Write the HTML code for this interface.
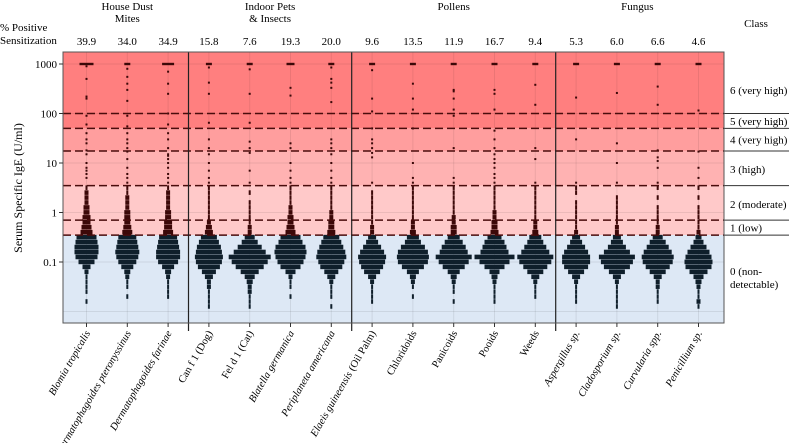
<!DOCTYPE html>
<html><head><meta charset="utf-8"><style>
body{margin:0;background:#fff;}
svg{display:block;}
svg text{font-family:"Liberation Serif","Times New Roman",serif;}
</style></head><body>
<svg id="chart" width="789" height="443" viewBox="0 0 789 443" font-family="Liberation Serif, serif">
<g id="bands"></g><g id="grid"></g><g id="marks"></g><g id="lines"></g><g id="labels"></g>
</svg>
<script>
const categories=["Blomia tropicalis","Dermatophagoides pteronyssinus","Dermatophagoides farinae","Can f 1 (Dog)","Fel d 1 (Cat)","Blatella germanica","Periplaneta americana","Elaeis guineensis (Oil Palm)","Chloridoids","Panicoids","Pooids","Weeds","Aspergillus sp.","Cladosporium sp.","Curvularia spp.","Penicillium sp."];
const italicCats=[true,true,true,false,false,true,true,"partial",false,false,false,false,true,true,true,true];
const percents=["39.9","34.0","34.9","15.8","7.6","19.3","20.0","9.6","13.5","11.9","16.7","9.4","5.3","6.0","6.6","4.6"];
const groups=[["House Dust","Mites"],["Indoor Pets","& Insects"],["Pollens"],["Fungus"]];
const groupStart=[0,3,7,12];
const groupEnd=[2,6,11,15];
const yTicks=[1000,100,10,1,0.1];
const classCuts=[100,50,17.5,3.5,0.7,0.35];
const classLabels=["6 (very high)","5 (very high)","4 (very high)","3 (high)","2 (moderate)","1 (low)","0 (non-|detectable)"];
const binStartLog=-1.9;
const binStep=0.1;
const binCounts=[
[0,1,0,1,1,1,1,2,4,8,11,12,12,11,10,6,5,4,4,3,3,2,2,2,1],
[0,0,1,0,1,1,2,3,6,9,11,12,11,10,9,5,4,3,3,3,2,2,2,1,1],
[0,0,1,1,1,1,2,3,6,10,12,12,11,10,9,5,4,4,3,3,2,2,2,2,1],
[1,1,1,1,2,2,4,7,11,13,14,13,12,10,8,4,3,2,1,1,1,1,1,1,1],
[1,1,1,2,2,3,5,9,14,18,21,16,12,8,5,2,2,1,1,1,1,1,0,1,0],
[0,0,1,0,1,1,2,5,10,13,15,16,15,12,10,5,4,3,3,2,2,1,1,1,1],
[1,0,1,1,1,2,4,7,11,13,15,14,12,10,8,4,3,3,2,2,1,1,1,1,1],
[0,1,1,1,1,2,4,8,11,13,14,12,9,6,4,2,2,1,1,1,1,1,1,1,0],
[0,0,1,0,1,2,3,6,11,15,16,15,12,8,6,3,2,2,1,1,1,1,1,1,1],
[0,1,0,1,1,2,3,6,11,15,18,14,12,9,6,3,3,2,2,1,1,1,1,1,1],
[0,1,1,1,1,2,3,5,10,15,20,14,12,10,7,4,3,3,2,2,1,1,1,1,1],
[0,0,1,1,1,2,4,8,12,16,18,14,11,8,6,3,2,2,1,1,1,1,1,1,1],
[0,1,1,1,1,2,4,8,12,14,14,12,9,6,4,2,1,1,1,1,1,1,0,1,1],
[1,1,1,1,1,2,4,8,13,16,18,13,9,6,4,2,2,1,1,1,1,1,1,0,0],
[0,1,1,1,2,2,4,8,12,15,16,14,11,8,5,2,2,1,1,1,1,0,1,0,1],
[1,2,1,1,2,3,5,9,13,14,13,11,8,5,3,2,1,1,1,1,1,0,1,0,1]];
const highValues=[
[5,6,7,8,10,15,18,25,30,40,60,90,200,220,500,900],
[4,5,6,8,12,17,20,25,30,40,55,90,180,300,400,550,800],
[4,5,6,8,10,12,14,15,20,30,40,60,100,250,400,700],
[4,5,7,10,15,20,30,65,250,420,850],
[4,7,16,20,27,65,250,780],
[4,5,7,10,20,25,230,330],
[4,5,7,10,15,20,25,30,170,330,420,500,850],
[4,13,16,20,25,30,50,110,200,750],
[4,5,10,50,120,200,400],
[4,5,20,90,120,200,280,300],
[4,5,6,8,10,12,15,20,30,45,120,250,300],
[4,12,20,150,380],
[4,30,210],
[4,10,25,260],
[4,8,11,13,18,150,350],
[5,8,17,115]];
const topCounts=[7,3,6,3,3,4,3,3,3,3,3,3,3,3,3,3];

const NS="http://www.w3.org/2000/svg";
const L=63,R=724,T=52,B=323;
const FF="Liberation Serif, serif";
function y(v){return 64+(3-Math.log10(v))*49.5;}
function x(i){return 86.5+i*40.8;}
function mk(tag,attrs,parent,text){const e=document.createElementNS(NS,tag);for(const k in attrs)e.setAttribute(k,attrs[k]);if(tag==="text")e.setAttribute('font-family',FF);if(text!==undefined)e.textContent=text;document.getElementById(parent).appendChild(e);return e;}

const bandDefs=[[T,y(50),"#ff7f7f"],[y(50),y(17.5),"#ff9e9e"],[y(17.5),y(3.5),"#ffb2b2"],[y(3.5),y(0.35),"#ffc9c9"],[y(0.35),B,"#dde8f5"]];
bandDefs.forEach((b,i)=>{const r=mk("rect",{x:L,y:b[0],width:R-L,height:b[1]-b[0],fill:b[2]},"bands");

});
yTicks.concat([0.01]).forEach(v=>{mk("line",{x1:L,x2:R,y1:y(v),y2:y(v),stroke:"#000",'stroke-opacity':0.08},"grid");});
categories.forEach((c,i)=>{mk("line",{x1:x(i),x2:x(i),y1:T,y2:B,stroke:"#000",'stroke-opacity':0.08},"grid");});
const thr=Math.log10(0.35);
categories.forEach((c,i)=>{
 const g=mk("g",{},"marks");
 
 
 binCounts[i].forEach((n,k)=>{if(!n)return;const lv=binStartLog+k*binStep;const w=n*2;
  const r=document.createElementNS(NS,"rect");
  r.setAttribute('x',x(i)-w/2);r.setAttribute('y',y(Math.pow(10,lv))-2.4);r.setAttribute('width',w);r.setAttribute('height',4.6);
  r.setAttribute('fill',lv>thr?"#3c0808":"#0f1f2b");
  
  
  g.appendChild(r);});
 highValues[i].forEach(v=>{const r=document.createElementNS(NS,"rect");
  r.setAttribute('x',x(i)-1);r.setAttribute('y',y(v)-1);r.setAttribute('width',2);r.setAttribute('height',2);r.setAttribute('fill',"#3c0808");
  
  
  g.appendChild(r);});
 const w=topCounts[i]*2;const r=document.createElementNS(NS,"rect");
 r.setAttribute('x',x(i)-w/2);r.setAttribute('y',y(1000)-1.2);r.setAttribute('width',w);r.setAttribute('height',2.4);r.setAttribute('fill',"#3c0808");
 
 
 g.appendChild(r);
});
classCuts.forEach(v=>{
 const d=mk("line",{x1:L,x2:R,y1:y(v),y2:y(v),stroke:"#4a0c0c",'stroke-width':1.5,'stroke-dasharray':"8,4"},"lines");
 
 
 mk("line",{x1:R,x2:789,y1:y(v),y2:y(v),stroke:"#333",'stroke-width':1},"lines");
});
[0,1,2].forEach(gi=>{const sx=(x(groupEnd[gi])+x(groupStart[gi+1]))/2;
 const s=mk("line",{x1:sx,x2:sx,y1:T,y2:B+8,stroke:"#222",'stroke-width':1.2},"lines");
 
 });
mk("rect",{x:L,y:T,width:R-L,height:B-T,fill:"none",stroke:"#555",'stroke-width':1},"lines");
const yt=mk("text",{x:0,y:0,transform:"translate(22,188) rotate(-90)",'text-anchor':"middle",'font-size':12},"labels","Serum Specific IgE (U/ml)");


yTicks.forEach(v=>{const t=mk("text",{x:57,y:y(v)+4,'text-anchor':"end",'font-size':11},"labels",String(v));
 
 
 mk("line",{x1:59,x2:L,y1:y(v),y2:y(v),stroke:"#333"},"labels");});
const p1=mk("text",{x:0,y:31,'font-size':11},"labels","% Positive");


mk("text",{x:0,y:44,'font-size':11},"labels","Sensitization");
const ch=mk("text",{x:756,y:27,'text-anchor':"middle",'font-size':11},"labels","Class");


groups.forEach((g,gi)=>{const cx=(x(groupStart[gi])+x(groupEnd[gi]))/2;
 g.forEach((s,li)=>{const t=mk("text",{x:cx,y:10+li*12,'text-anchor':"middle",'font-size':11},"labels",s);
 
 });});
percents.forEach((p,i)=>{const t=mk("text",{x:x(i),y:45,'text-anchor':"middle",'font-size':11},"labels",p);
 
 });
const cy=[y(300),y(70),y(30),y(7.5),y(1.5),y(0.5),y(0.05)];
classLabels.forEach((s,i)=>{const parts=s.split("|");parts.forEach((ps,j)=>{
 const t=mk("text",{x:730,y:cy[i]+4+j*13-(parts.length>1?6:0),'font-size':11},"labels",ps);
 
 });});
categories.forEach((c,i)=>{
 mk("line",{x1:x(i),x2:x(i),y1:B,y2:B+4,stroke:"#333"},"labels");
 const t=mk("text",{x:0,y:0,transform:`translate(${x(i)+4},${B+10}) rotate(-60)`,'text-anchor':"end",'font-size':10.5},"labels");
 
 
 if(italicCats[i]==="partial"){const a=document.createElementNS(NS,"tspan");a.setAttribute('font-style','italic');a.textContent="Elaeis guineensis ";t.appendChild(a);const b=document.createElementNS(NS,"tspan");b.textContent="(Oil Palm)";t.appendChild(b);}
 else{t.textContent=c;if(italicCats[i])t.setAttribute('font-style','italic');}
});
</script>
</body></html>
